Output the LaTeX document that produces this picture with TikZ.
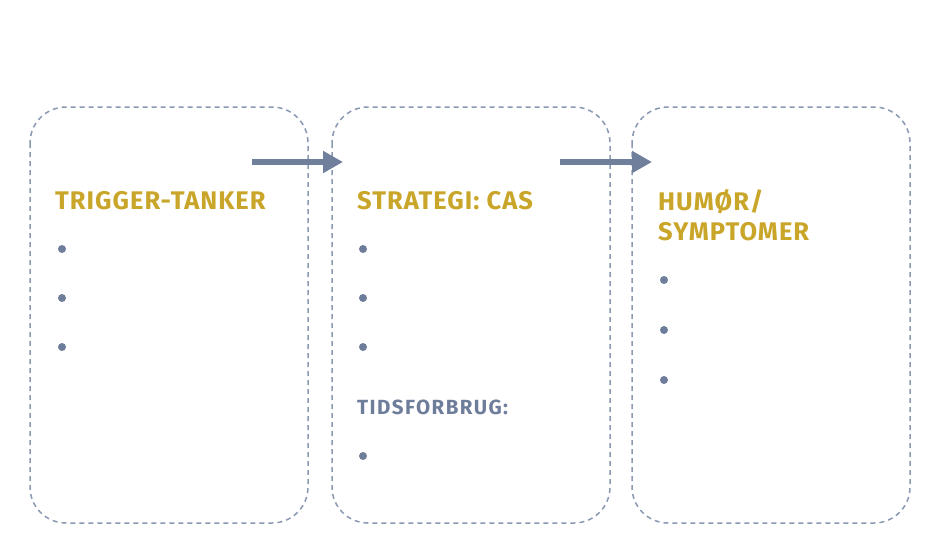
\documentclass[tikz,border=0pt]{standalone}
\usepackage{fontspec}
\setmainfont{Fira Sans}
\newfontfamily\headfont[LetterSpace=4]{Fira Sans}
\newfontfamily\subfont[LetterSpace=7]{Fira Sans}
\usetikzlibrary{arrows.meta}
\usetikzlibrary{calc}

\definecolor{dashblue}{HTML}{8A98B2}
\definecolor{arrowblue}{HTML}{6F7F9C}
\definecolor{gold}{HTML}{C9A62A}
\definecolor{slate}{HTML}{6E7D9A}

\begin{document}
\begin{tikzpicture}[x=1pt, y=-1pt,
    panel/.style={draw=dashblue, line width=1.5pt, dash pattern=on 5pt off 4pt, rounded corners=36pt},
    heading/.style={anchor=base west, inner sep=0pt, text=gold, font=\headfont\bfseries\fontsize{25.5}{30}\selectfont, align=left},
    subheading/.style={anchor=base west, inner sep=0pt, text=slate, font=\subfont\bfseries\fontsize{20.5}{24}\selectfont},
    flow/.style={draw=arrowblue, line width=5.5pt, -{Triangle[length=20pt, width=21pt]}},
    dot/.style={circle, fill=slate, inner sep=0pt, minimum size=8pt}]

        \useasboundingbox (0,0) rectangle (944,551);

        % panels
        \draw[panel] (30,107) rectangle (308,523);
        \draw[panel] (332,107) rectangle (610,523);
        \draw[panel] (632,107) rectangle (910,523);

        % headings
        \node[heading] (trigger) at (55,209) {TRIGGER-TANKER};
        \node[heading] (strategy) at (357,209) {STRATEGI: CAS};
        \node[heading] (mood) at (658,240) {HUMØR/\\SYMPTOMER};
        \node[subheading] (time) at (357,414) {TIDSFORBRUG:};

        % bullets
        \foreach \y [count=\i] in {249,298,347} {
          \node[dot] (b1\i) at (62,\y) {};
          \node[dot] (b2\i) at (363,\y) {};
        }
        \node[dot] (b24) at (363,456) {};
        \foreach \y [count=\i] in {280,330,380} {
          \node[dot] (b3\i) at (664,\y) {};
        }

        % flow arrows
        \coordinate (a1) at (252,162);
        \coordinate (a2) at (343,162);
        \coordinate (a3) at (560,162);
        \coordinate (a4) at (652,162);
        \draw[flow] (a1) -- (a2);
        \draw[flow] (a3) -- (a4);

      \end{tikzpicture}
\end{document}
